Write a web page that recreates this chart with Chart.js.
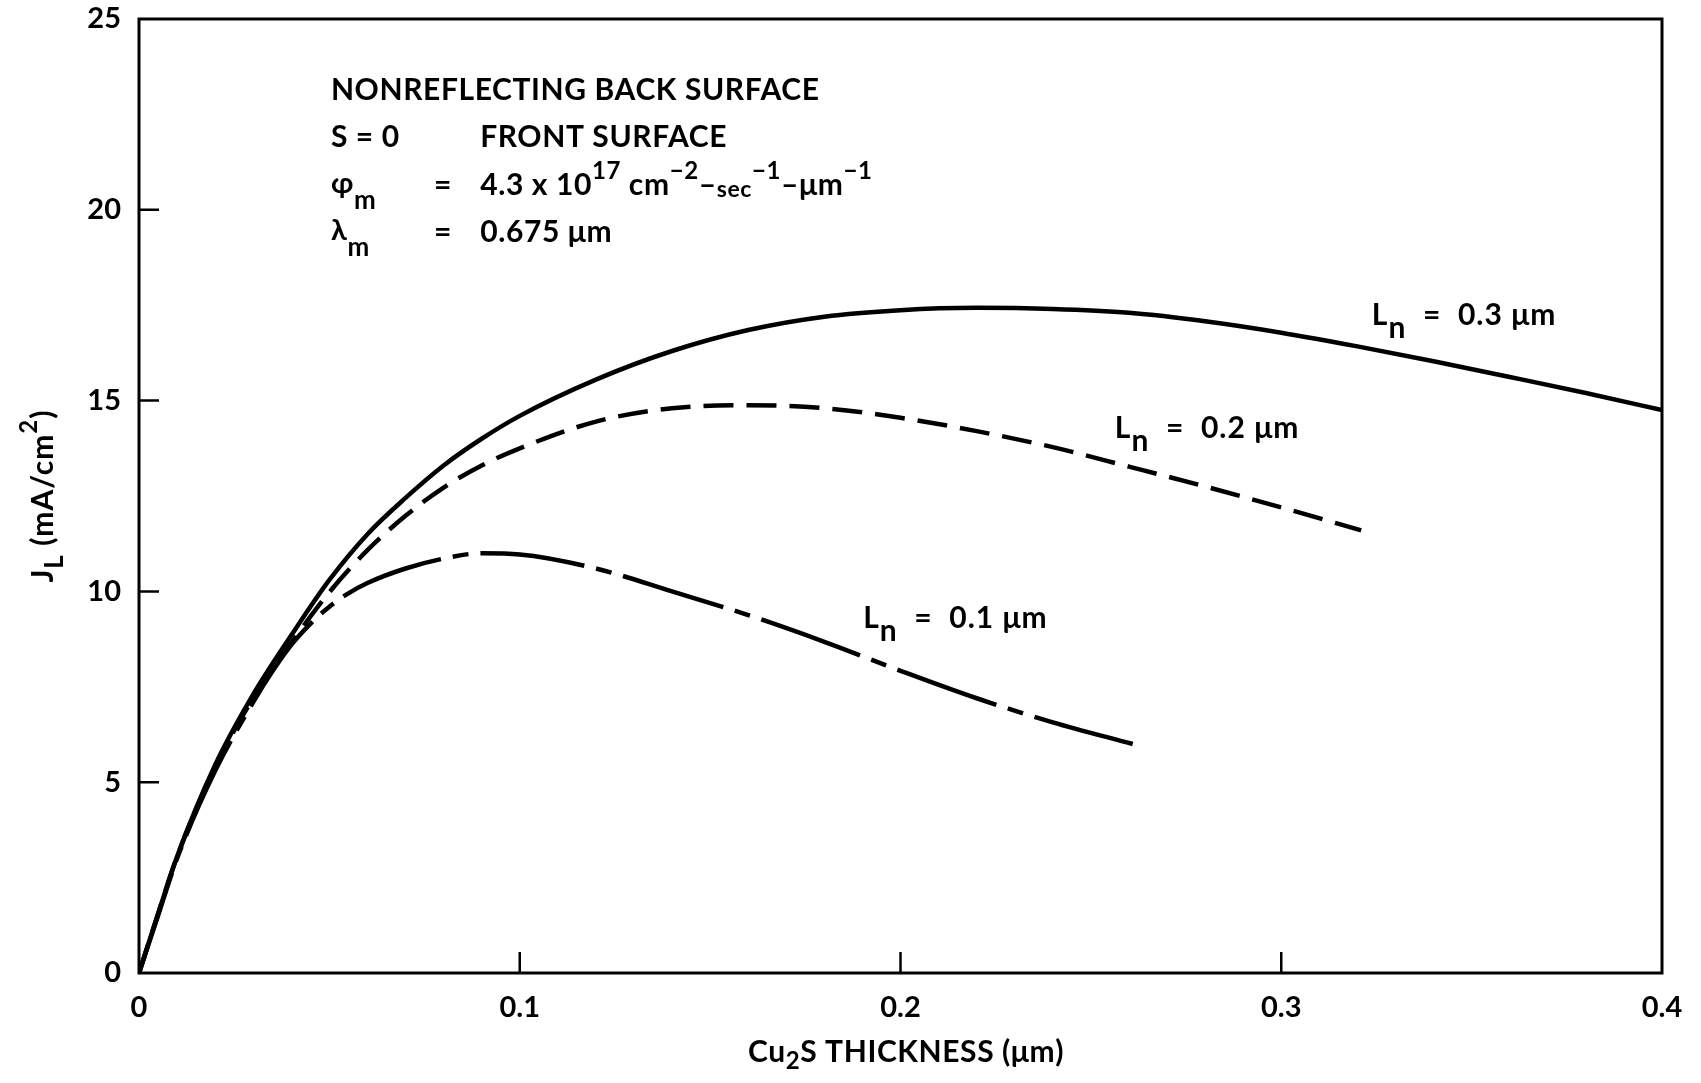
<!DOCTYPE html>
<html><head><meta charset="utf-8">
<script src="https://cdn.jsdelivr.net/npm/chart.js@4.4.0/dist/chart.umd.min.js"></script>
<style>html,body{margin:0;padding:0;background:#fff;} canvas{display:block;}</style>
</head><body>
<canvas id="c" width="1701" height="1083"></canvas>
<script>
// ---- data ----
const xTickValues = [0, 0.1, 0.2, 0.3, 0.4];
const xTickLabels = ['0', '0.1', '0.2', '0.3', '0.4'];
const yTickValues = [0, 5, 10, 15, 20, 25];
const yTickLabels = ['0', '5', '10', '15', '20', '25'];

const seriesLabels = ['0.3 μm', '0.2 μm', '0.1 μm'];

const thicknessLn03 = [0, 0.005, 0.01, 0.02, 0.03, 0.04, 0.05, 0.06, 0.07, 0.08, 0.09, 0.1, 0.12, 0.14, 0.16, 0.18, 0.2, 0.22, 0.24, 0.26, 0.28, 0.3, 0.32, 0.34, 0.36, 0.38, 0.4];
const currentLn03   = [0, 1.55, 3.05, 5.45, 7.3, 8.85, 10.3, 11.5, 12.45, 13.3, 14.0, 14.6, 15.55, 16.3, 16.85, 17.2, 17.37, 17.43, 17.4, 17.3, 17.08, 16.78, 16.42, 16.03, 15.62, 15.2, 14.75];

const thicknessLn02 = [0, 0.005, 0.01, 0.02, 0.03, 0.04, 0.05, 0.06, 0.07, 0.08, 0.09, 0.1, 0.12, 0.14, 0.16, 0.18, 0.2, 0.22, 0.24, 0.26, 0.28, 0.3, 0.321];
const currentLn02   = [0, 1.55, 3.05, 5.4, 7.2, 8.65, 9.98, 11.08, 11.98, 12.72, 13.3, 13.75, 14.45, 14.8, 14.88, 14.8, 14.55, 14.2, 13.78, 13.27, 12.75, 12.2, 11.6];

const thicknessLn01 = [0, 0.005, 0.01, 0.02, 0.03, 0.035, 0.04, 0.045, 0.05, 0.055, 0.06, 0.07, 0.08, 0.09, 0.1, 0.12, 0.14, 0.16, 0.18, 0.2, 0.22, 0.24, 0.261];
const currentLn01   = [0, 1.5, 3.0, 5.3, 7.1, 7.9, 8.6, 9.15, 9.6, 9.95, 10.22, 10.6, 10.86, 11.0, 10.97, 10.6, 10.0, 9.38, 8.68, 7.92, 7.2, 6.57, 6.0];

const FONT = 'Lato, "DejaVu Sans", sans-serif';

function pairs(xs, ys) { return xs.map((x, i) => ({ x: x, y: ys[i] })); }

function drawRich(ctx, x, y, parts, size, align, spacing) {
  ctx.letterSpacing = (spacing || 0) + 'px';
  const widths = parts.map(p => { ctx.font = `bold ${Math.round(size * p[1])}px ${FONT}`; return ctx.measureText(p[0]).width; });
  const total = widths.reduce((a, b) => a + b, 0);
  let cx = align === 'center' ? x - total / 2 : x;
  parts.forEach((p, i) => {
    ctx.font = `bold ${Math.round(size * p[1])}px ${FONT}`;
    ctx.fillText(p[0], cx, y + p[2]);
    cx += widths[i];
  });
  ctx.letterSpacing = '0px';
}

const decor = {
  id: 'decor',
  afterDraw(chart) {
    const ctx = chart.ctx;
    const a = chart.chartArea;
    const xs = chart.scales.x, ys = chart.scales.y;
    ctx.save();
    ctx.strokeStyle = '#000';
    ctx.fillStyle = '#000';
    // frame
    ctx.lineWidth = 3;
    ctx.strokeRect(a.left, a.top, a.right - a.left, a.bottom - a.top);
    // inward ticks
    ctx.lineWidth = 2.5;
    ctx.beginPath();
    xTickValues.slice(1, -1).forEach(v => {
      const px = xs.getPixelForValue(v);
      ctx.moveTo(px, a.bottom); ctx.lineTo(px, a.bottom - 21);
    });
    yTickValues.slice(1, -1).forEach(v => {
      const py = ys.getPixelForValue(v);
      ctx.moveTo(a.left, py); ctx.lineTo(a.left + 20, py);
    });
    ctx.stroke();

    ctx.textBaseline = 'alphabetic';
    ctx.textAlign = 'left';
    const S = 30;
    const SP = 0.6;
    const X = (v) => xs.getPixelForValue(v);
    const Y = (v) => ys.getPixelForValue(v);
    // annotation block
    const left = X(0.0504);
    drawRich(ctx, left, Y(22.88), [['NONREFLECTING BACK SURFACE', 1, 0]], S, 'left', SP);
    drawRich(ctx, left, Y(21.65), [['S = 0', 1, 0]], S, 'left', SP);
    drawRich(ctx, X(0.0896), Y(21.65), [['FRONT SURFACE', 1, 0]], S, 'left', SP);
    drawRich(ctx, left, Y(20.45), [['φ', 0.95, 0], ['m', 0.85, 16]], S, 'left', SP);
    drawRich(ctx, X(0.0775), Y(20.4), [['=', 1, 0]], S, 'left', SP);
    drawRich(ctx, X(0.0896), Y(20.4), [['4.3 x 10', 1, 0], ['17', 0.8, -16], [' cm', 1, 0], ['−2', 0.8, -16], ['–', 1, 0], ['sec', 0.75, 2], ['−1', 0.8, -16], ['–', 1, 0], ['μm', 1, 0], ['−1', 0.8, -16]], S, 'left', SP);
    drawRich(ctx, left, Y(19.2), [['λ', 0.95, 0], ['m', 0.85, 16]], S, 'left', SP);
    drawRich(ctx, X(0.0775), Y(19.16), [['=', 1, 0]], S, 'left', SP);
    drawRich(ctx, X(0.0896), Y(19.16), [['0.675 μm', 1, 0]], S, 'left', SP);

    // curve labels
    const curveLabels = [[0.3238, 16.98, seriesLabels[0]], [0.2563, 14.02, seriesLabels[1]], [0.1902, 9.04, seriesLabels[2]]];
    curveLabels.forEach(c => {
      drawRich(ctx, X(c[0]), Y(c[1]), [['L', 1, 0], ['n', 1, 13], ['  =  ', 1, 0], [c[2], 1, 0]], S, 'left', 1);
    });

    // axis titles
    drawRich(ctx, 906, 1062, [['Cu', 1, 0], ['2', 0.8, 7], ['S THICKNESS (μm)', 1, 0]], S, 'center', 0.6);
    ctx.save();
    ctx.translate(53, 496);
    ctx.rotate(-Math.PI / 2);
    drawRich(ctx, 0, 0, [['J', 1, 0], ['L', 0.85, 10], [' (mA/cm', 1, 0], ['2', 0.8, -16], [')', 1, 0]], S, 'center', 1);
    ctx.restore();
    ctx.restore();
  }
};

const lineBase = { borderColor: '#000', borderWidth: 4.5, pointRadius: 0, fill: false, cubicInterpolationMode: 'monotone', borderCapStyle: 'butt' };

new Chart(document.getElementById('c'), {
  type: 'line',
  data: {
    datasets: [
      Object.assign({ label: 'Ln = ' + seriesLabels[0], data: pairs(thicknessLn03, currentLn03), borderDash: [] }, lineBase),
      Object.assign({ label: 'Ln = ' + seriesLabels[1], data: pairs(thicknessLn02, currentLn02), borderDash: [30, 13] }, lineBase),
      Object.assign({ label: 'Ln = ' + seriesLabels[2], data: pairs(thicknessLn01, currentLn01), borderDash: [105, 12, 16, 12] }, lineBase)
    ]
  },
  options: {
    responsive: false,
    animation: false,
    events: [],
    layout: { padding: { top: 19, right: 39, left: 0, bottom: 0 } },
    plugins: { legend: { display: false }, tooltip: { enabled: false } },
    scales: {
      x: {
        type: 'linear', min: 0, max: 0.4,
        afterFit(s) { s.height = 110; s.paddingLeft = 0; s.paddingRight = 0; },
        afterBuildTicks(s) { s.ticks = xTickValues.map(v => ({ value: v })); },
        grid: { display: false, drawTicks: false },
        border: { display: false },
        ticks: { padding: 17, color: '#000', font: { family: FONT, size: 29, weight: 'bold' }, maxRotation: 0,
                 callback: (v) => xTickLabels[xTickValues.findIndex(t => Math.abs(t - v) < 1e-9)] }
      },
      y: {
        type: 'linear', min: 0, max: 25,
        afterFit(s) { s.width = 139; s.paddingTop = 0; s.paddingBottom = 0; },
        afterBuildTicks(s) { s.ticks = yTickValues.map(v => ({ value: v })); },
        grid: { display: false, drawTicks: false },
        border: { display: false },
        ticks: { padding: 18, color: '#000', font: { family: FONT, size: 29, weight: 'bold' },
                 callback: (v) => yTickLabels[yTickValues.indexOf(v)] }
      }
    }
  },
  plugins: [decor]
});
</script>
</body></html>
